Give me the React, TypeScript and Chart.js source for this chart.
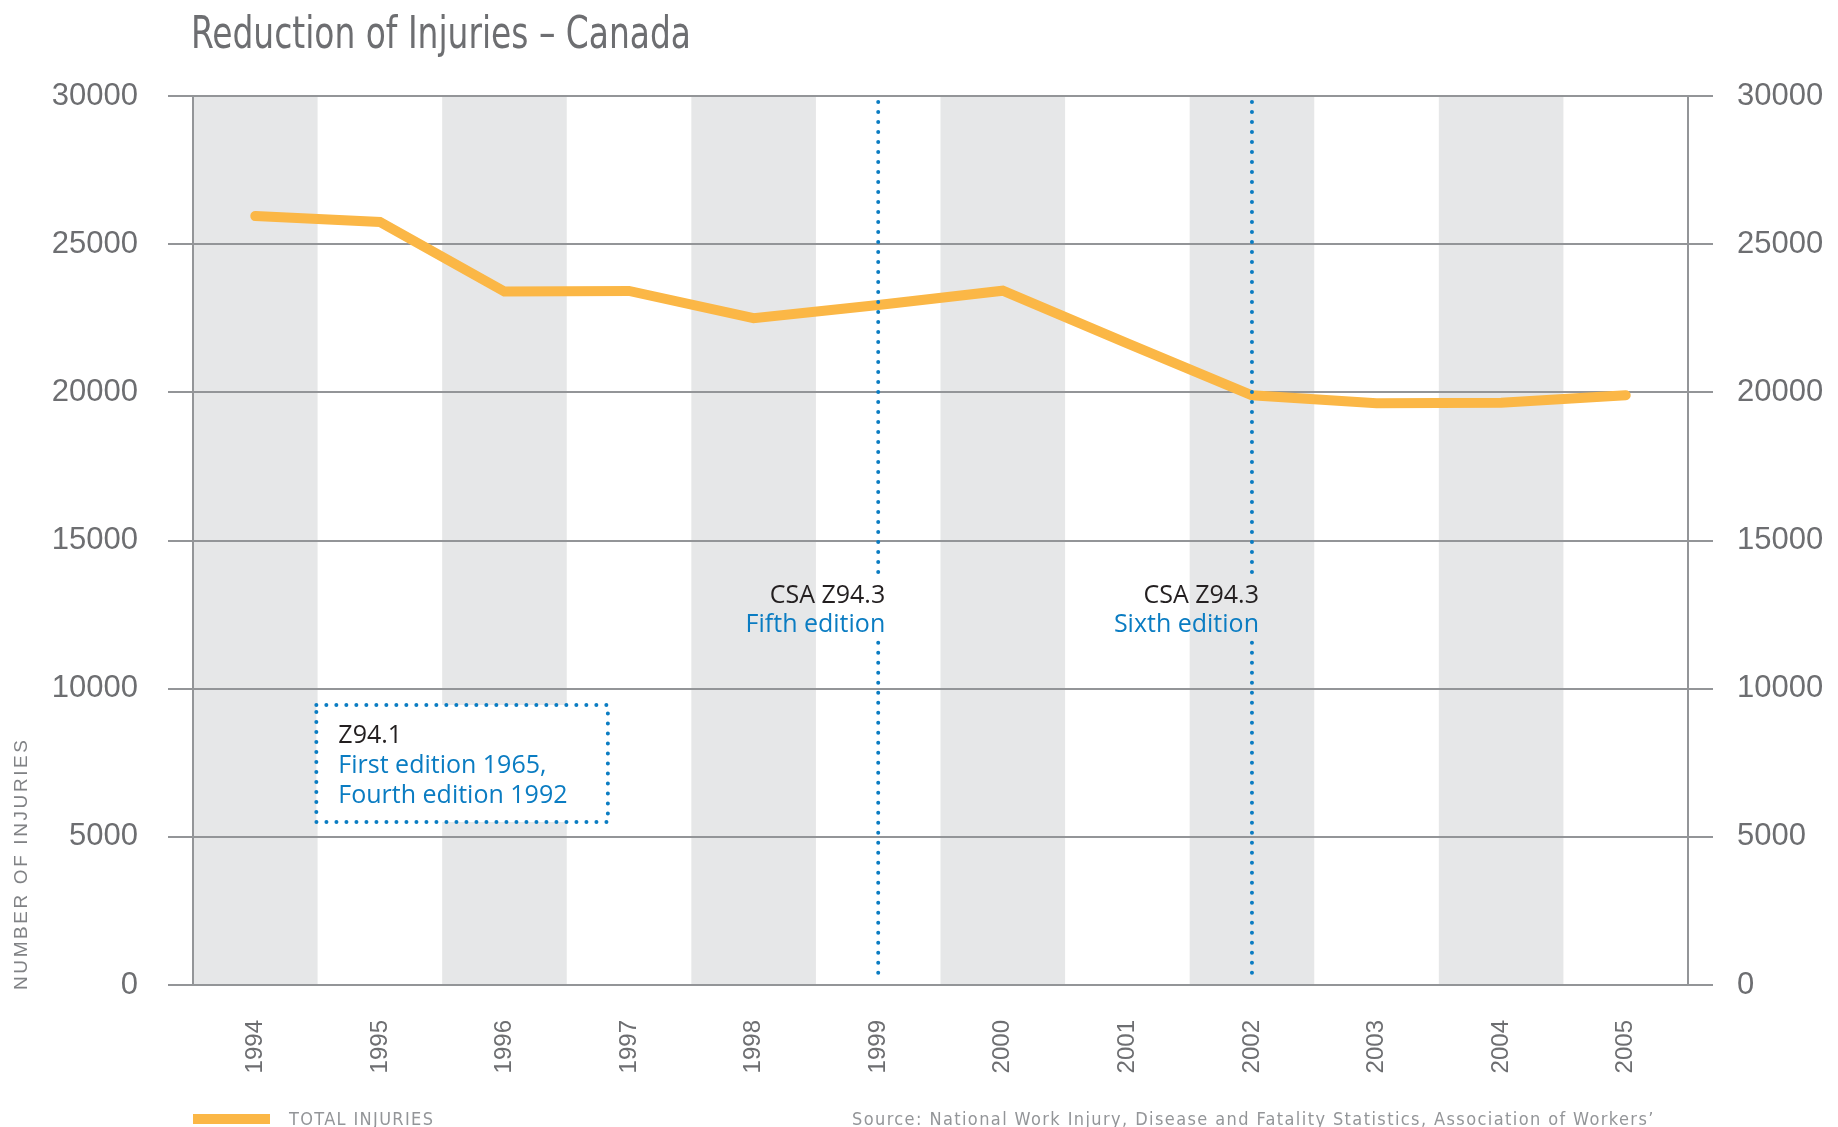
import React, { useEffect, useRef } from 'react';
import { Chart, registerables } from 'chart.js';

Chart.register(...registerables);

const years = ['1994', '1995', '1996', '1997', '1998', '1999', '2000', '2001', '2002', '2003', '2004', '2005'];
const totalInjuries = [25950, 25750, 23400, 23420, 22500, 22950, 23430, 21650, 19900, 19630, 19650, 19900];
const yTickValues = [0, 5000, 10000, 15000, 20000, 25000, 30000];
const editionYears = ['1999', '2002'];
const editionTitles = ['CSA Z94.3', 'CSA Z94.3'];
const editionSubs = ['Fifth edition', 'Sixth edition'];
const boxLines = ['Z94.1', 'First edition 1965,', 'Fourth edition 1992'];
const titleText = 'Reduction of Injuries \u2013 Canada';
const yAxisTitle = 'NUMBER OF INJURIES';
const legendLabel = 'TOTAL INJURIES';
const sourceText = 'Source: National Work Injury, Disease and Fatality Statistics, Association of Workers\u2019';

const GRID = '#939598';
const BAND = '#e6e7e8';
const ORANGE = '#fbb746';
const BLUE = '#0a7cc2';
const NARROW = '"Liberation Sans Narrow", "DejaVu Sans Condensed", "Liberation Sans", sans-serif';
const SANS = '"Liberation Sans", Arial, sans-serif';
const ANNOT = '"Open Sans", "Noto Sans", sans-serif';

function drawSpaced(ctx: CanvasRenderingContext2D, text: string, x: number, y: number, width: number) {
  (ctx as any).letterSpacing = '0px';
  const w0 = ctx.measureText(text).width;
  const sp = (width - w0) / Math.max(1, text.length - 1);
  (ctx as any).letterSpacing = sp.toFixed(2) + 'px';
  ctx.fillText(text, x, y);
  (ctx as any).letterSpacing = '0px';
}

function drawScaled(ctx: CanvasRenderingContext2D, text: string, x: number, y: number, width: number) {
  const w0 = ctx.measureText(text).width;
  ctx.save();
  ctx.translate(x, y);
  ctx.scale(width / w0, 1);
  ctx.fillText(text, 0, 0);
  ctx.restore();
}

const decor = {
  id: 'decor',
  beforeDraw(chart: any) {
    const { ctx, chartArea: ca } = chart;
    const x = chart.scales.x;
    ctx.save();
    ctx.fillStyle = BAND;
    years.forEach((_, i) => {
      if (i % 2 === 0) {
        const l = x.getPixelForValue(i - 0.5);
        const r = x.getPixelForValue(i + 0.5);
        ctx.fillRect(l, ca.top, r - l, ca.bottom - ca.top);
      }
    });

    // Title
    ctx.fillStyle = '#6d6e71';
    ctx.font = '45px ' + NARROW;
    ctx.textAlign = 'left';
    ctx.textBaseline = 'alphabetic';
    drawScaled(ctx, titleText, 191, 48, 500);

    // Y axis title
    ctx.save();
    ctx.translate(27, 990);
    ctx.rotate(-Math.PI / 2);
    ctx.fillStyle = '#808285';
    ctx.font = '19px ' + SANS;
    drawSpaced(ctx, yAxisTitle, 0, 0, 250);
    ctx.restore();

    // Legend
    ctx.fillStyle = ORANGE;
    ctx.fillRect(193, 1114, 77, 10);
    ctx.fillStyle = '#939598';
    ctx.font = '18px ' + NARROW;
    drawSpaced(ctx, legendLabel, 289, 1125, 144);
    drawSpaced(ctx, sourceText, 852, 1125, 801);
    ctx.restore();
  },
  afterDatasetsDraw(chart: any) {
    const { ctx } = chart;
    const x = chart.scales.x;
    const y = chart.scales.y;
    ctx.save();
    ctx.strokeStyle = BLUE;
    ctx.lineWidth = 4;
    ctx.lineCap = 'round';
    ctx.setLineDash([0, 10]);

    editionYears.forEach((yr, i) => {
      const px = x.getPixelForValue(years.indexOf(yr));
      ctx.beginPath();
      ctx.moveTo(px, y.getPixelForValue(29800));
      ctx.lineTo(px, y.getPixelForValue(13800));
      ctx.moveTo(px, y.getPixelForValue(11550));
      ctx.lineTo(px, y.getPixelForValue(150));
      ctx.stroke();
      ctx.textAlign = 'right';
      ctx.textBaseline = 'alphabetic';
      ctx.font = '25px ' + ANNOT;
      ctx.fillStyle = '#231f20';
      ctx.fillText(editionTitles[i], px + 7, y.getPixelForValue(12890));
      ctx.fillStyle = BLUE;
      ctx.fillText(editionSubs[i], px + 7, y.getPixelForValue(11900));
    });

    // Box
    const bl = x.getPixelForValue(0.49);
    const br = x.getPixelForValue(2.83);
    const bt = y.getPixelForValue(9450);
    const bb = y.getPixelForValue(5500);
    ctx.setLineDash([]);
    ctx.fillStyle = '#ffffff';
    ctx.fillRect(bl, bt, br - bl, bb - bt);
    ctx.setLineDash([0, 10]);
    ctx.beginPath();
    ctx.rect(bl, bt, br - bl, bb - bt);
    ctx.stroke();
    ctx.setLineDash([]);
    ctx.textAlign = 'left';
    ctx.font = '25px ' + ANNOT;
    boxLines.forEach((t, i) => {
      ctx.fillStyle = i === 0 ? '#231f20' : BLUE;
      ctx.fillText(t, bl + 22, bt + 38 + i * 30);
    });
    ctx.restore();
  },
};

export default function App() {
  const ref = useRef<HTMLCanvasElement | null>(null);
  useEffect(() => {
    document.body.style.margin = '0';
    const canvas = ref.current;
    if (!canvas) return;
    const chart = new Chart(canvas, {
      type: 'line',
      data: {
        labels: years,
        datasets: [
          {
            label: legendLabel,
            data: totalInjuries,
            borderColor: ORANGE,
            backgroundColor: ORANGE,
            borderWidth: 10,
            borderCapStyle: 'round',
            borderJoinStyle: 'miter',
            pointRadius: 0,
            pointHoverRadius: 0,
            tension: 0,
            fill: false,
          },
        ],
      },
      options: {
        responsive: false,
        animation: false,
        devicePixelRatio: 1,
        layout: { padding: { top: 96, left: 0, right: 0, bottom: 0 } },
        plugins: { legend: { display: false }, tooltip: { enabled: false }, title: { display: false } },
        scales: {
          x: {
            type: 'category',
            offset: true,
            grid: { display: false, drawTicks: false, tickLength: 0 },
            border: { display: false },
            ticks: {
              minRotation: 90,
              maxRotation: 90,
              padding: 35,
              color: '#6d6e71',
              font: { family: SANS, size: 24 },
              autoSkip: false,
            },
            afterFit: (s: any) => {
              s.height = 142;
            },
          },
          y: {
            position: 'left',
            min: 0,
            max: 30000,
            afterBuildTicks: (s: any) => {
              s.ticks = yTickValues.map((v) => ({ value: v }));
            },
            grid: { color: GRID, lineWidth: 2, tickLength: 25, drawTicks: true },
            border: { display: true, color: GRID, width: 2 },
            ticks: {
              padding: 30,
              color: '#6d6e71',
              font: { family: SANS, size: 31 },
              callback: (v: any) => String(v),
            },
            afterFit: (s: any) => {
              s.width = 193;
            },
          },
          y1: {
            position: 'right',
            min: 0,
            max: 30000,
            afterBuildTicks: (s: any) => {
              s.ticks = yTickValues.map((v) => ({ value: v }));
            },
            grid: { color: GRID, lineWidth: 2, tickLength: 25, drawTicks: true, drawOnChartArea: false },
            border: { display: true, color: GRID, width: 2 },
            ticks: {
              padding: 24,
              color: '#6d6e71',
              font: { family: SANS, size: 31 },
              callback: (v: any) => String(v),
            },
            afterFit: (s: any) => {
              s.width = 150;
            },
          },
        },
      },
      plugins: [decor],
    } as any);
    return () => chart.destroy();
  }, []);
  return (
    <div style={{ position: 'absolute', left: 0, top: 0, width: 1838, height: 1127, background: '#ffffff' }}>
      <canvas ref={ref} width={1838} height={1127} style={{ display: 'block', width: 1838, height: 1127 }} />
    </div>
  );
}
